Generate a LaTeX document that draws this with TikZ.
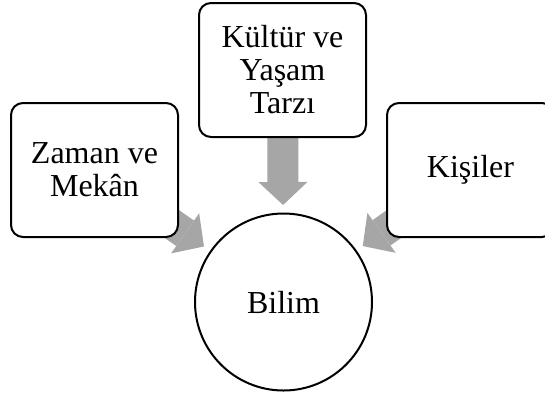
\documentclass[tikz,border=0pt]{standalone}
\usepackage{fontspec}
\setmainfont{Liberation Serif}
\usetikzlibrary{arrows.meta,backgrounds}
\definecolor{okgray}{RGB}{166,166,166}

\tikzset{
    kutu/.style={draw,line width=2pt,rounded corners=12pt,fill=white,
        minimum width=167pt,minimum height=134pt,align=center,
        font=\fontsize{32}{33}\selectfont},
    merkez/.style={draw,line width=2pt,circle,fill=white,minimum size=177pt,
        font=\fontsize{32}{33}\selectfont},
    blok/.style={okgray,line width=31pt,
        -{Triangle[width=49pt,length=23pt,line width=0pt]},shorten >=7.5pt}
}

\begin{document}
\begin{tikzpicture}[x=1pt,y=-1pt]
        \useasboundingbox (0,0) rectangle (545,392);
        \node[merkez] (bilim) at (283.5,302) {Bilim};
        \node[kutu] (zaman) at (94.5,170) {Zaman ve\\Mekân};
        \node[kutu] (kultur) at (282.5,70) {Kültür ve\\Yaşam\\Tarzı};
        \node[kutu] (kisiler) at (470.5,170) {Kişiler};
        % gray block arrows behind the boxes
        \begin{scope}[on background layer]
            \draw[blok] (zaman.center) -- (bilim);
            \draw[blok] (kultur.center) -- (bilim);
            \draw[blok] (kisiler.center) -- (bilim);
        \end{scope}
    \end{tikzpicture}
\end{document}
